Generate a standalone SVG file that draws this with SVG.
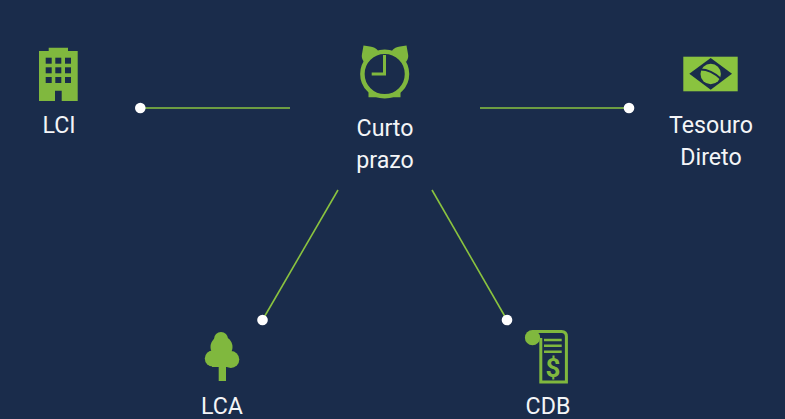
<svg xmlns="http://www.w3.org/2000/svg" width="785" height="419" viewBox="0 0 785 419">
<style>
.g{fill:#80b83e}
.b{fill:#1a2c4b}
.ol{fill:none;stroke:#80b83e}
.t{font-family:Roboto,"Liberation Sans",sans-serif;font-size:23.2px;font-weight:400;fill:#f4f5f7;text-anchor:middle}
.c{stroke:#8ac33f;stroke-width:1.6;fill:none}
.d{fill:#fff}
</style>
<rect width="785" height="419" fill="#1a2c4b"/>
<g id="connectors">
<path class="c" d="M140 108H290"/>
<path class="c" d="M480 108H629"/>
<path class="c" d="M338 190L262.500 320"/>
<path class="c" d="M432 190L507 320"/>
<circle class="d" cx="140.300" cy="108" r="5.300"/>
<circle class="d" cx="629" cy="108" r="5.300"/>
<circle class="d" cx="262.500" cy="320" r="5.300"/>
<circle class="d" cx="507" cy="320" r="5.300"/>
</g>
<g id="lci">
<path class="g" d="M39 51H48.700V47.700H68V51H77.700V101H61.700V90.700H55V101H39Z"/>
<g class="b">
<rect x="45.700" y="57.700" width="6" height="6"/><rect x="55.300" y="57.700" width="6" height="6"/><rect x="65" y="57.700" width="6" height="6"/>
<rect x="45.700" y="67.300" width="6" height="6"/><rect x="55.300" y="67.300" width="6" height="6"/><rect x="65" y="67.300" width="6" height="6"/>
<rect x="45.700" y="77" width="6" height="6"/><rect x="55.300" y="77" width="6" height="6"/><rect x="65" y="77" width="6" height="6"/>
</g>
<text class="t" x="59" y="133">LCI</text>
</g>
<g id="curto-prazo">
<path class="g" d="M363.500 45.500L370 46.500Q375 47 378 50.500L364 62Q361 58 362 54Z"/>
<path class="g" d="M406.500 45.500L400 46.500Q395 47 392 50.500L406 62Q409 58 408 54Z"/>
<path class="g" d="M368.500 88H400.500V97.300H368.500Z"/>
<circle cx="384.700" cy="74" r="22.300" fill="#1a2c4b" stroke="#80b83e" stroke-width="4.500"/>
<path class="ol" stroke-width="3" d="M384.500 55V74H371.700"/>
<text class="t" x="385" y="135.500">Curto</text>
<text class="t" x="385" y="167.500">prazo</text>
</g>
<g id="tesouro-direto">
<rect fill="#8ac33f" x="683.300" y="56.700" width="54.400" height="34.600"/>
<path class="b" d="M689.300 73.800L710.700 58L732 73.800L710.700 89.700Z"/>
<circle fill="#8ac33f" cx="710.700" cy="74" r="10.200"/>
<path fill="none" stroke="#1a2c4b" stroke-width="2.200" d="M700.500 69.500Q711 69.500 721 79"/>
<text class="t" x="711" y="133">Tesouro</text>
<text class="t" x="711" y="165">Direto</text>
</g>
<g id="lca">
<rect class="g" x="218.700" y="355" width="7.300" height="26"/>
<circle class="g" cx="221" cy="339" r="7"/>
<circle class="g" cx="221.500" cy="347" r="11"/>
<circle class="g" cx="212.800" cy="358.500" r="8"/>
<circle class="g" cx="230.800" cy="359.500" r="8.500"/>
<rect class="g" x="212" y="350" width="19" height="17"/>
<text class="t" x="222" y="414">LCA</text>
</g>
<g id="cdb">
<circle class="g" cx="532.500" cy="337.700" r="7.600"/>
<path class="ol" stroke-width="3" d="M532.500 331.400H561.500Q566.400 331.400 566.400 336.500V382H540.800V338"/>
<path class="ol" stroke-width="2.500" d="M544 340H561.700M544 345.800H561.700M544 351.800H561.700"/>
<text x="553" y="377" font-family="Roboto,'Liberation Sans',sans-serif" font-size="26" font-weight="700" fill="#80b83e" text-anchor="middle">$</text>
<text class="t" x="548" y="414">CDB</text>
</g>
</svg>
